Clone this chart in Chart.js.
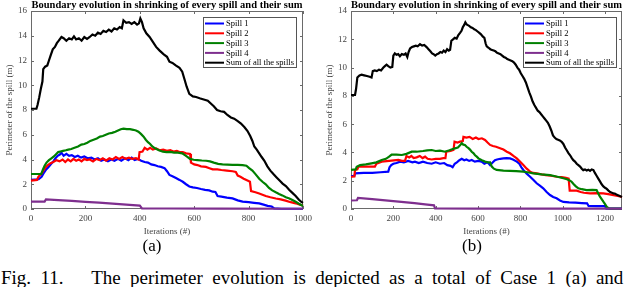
<!DOCTYPE html>
<html><head><meta charset="utf-8">
<script src="https://cdn.jsdelivr.net/npm/chart.js@4/dist/chart.umd.min.js"></script>
<style>
html,body{margin:0;padding:0;background:#fff;}
body{width:640px;height:287px;overflow:hidden;position:relative;font-family:"Liberation Serif","Times New Roman",serif;}
canvas{position:absolute;top:0;}
#ca{left:0;} #cb{left:320px;}
.sub{position:absolute;font-size:17px;line-height:17px;color:#000;transform:translateX(-50%);}
.cap{position:absolute;left:1px;top:268px;font-size:19px;line-height:19px;white-space:nowrap;word-spacing:4.6px;color:#000;}
</style></head><body>
<canvas id="ca" width="320" height="240"></canvas>
<canvas id="cb" width="320" height="240"></canvas>
<div class="sub" style="left:152px;top:237px;">(a)</div>
<div class="sub" style="left:472px;top:237px;">(b)</div>
<div class="cap">Fig. 11.&nbsp;&nbsp; The perimeter evolution is depicted as a total of Case 1 (a) and</div>
<script>
const seriesLabels = ['Spill 1','Spill 2','Spill 3','Spill 4','Sum of all the spills'];
const seriesColors = ['#0000ff','#ff0000','#008000','#7e2f8e','#000000'];
const chartTitle = 'Boundary evolution in shrinking of every spill and their sum';
const xTitle = 'Iterations (#)';
const yTitle = 'Perimeter of the spill (m)';

// ---- Case (a) ----
const spill1A = [[0,2.35],[28,2.4],[39,2.6],[48,2.95],[56,3.2],[63,3.35],[72,3.6],[82,3.85],[90,4.1],[98,4.3],[106,4.4],[112,4.55],[120,4.3],[130,4.45],[140,4.3],[150,4.35],[161,4.2],[172,4.3],[184,4.15],[196,4.25],[208,4.1],[222,4.15],[234,4.0],[246,4.1],[258,3.9],[270,4.0],[283,3.85],[295,4.0],[307,3.9],[320,4.05],[332,3.9],[345,4.1],[358,3.95],[370,4.15],[381,3.95],[393,4.05],[405,3.9],[418,3.8],[430,3.75],[442,3.6],[454,3.55],[466,3.45],[478,3.4],[491,3.3],[500,3.05],[509,2.75],[520,2.65],[533,2.5],[546,2.35],[558,2.2],[570,2.0],[582,1.82],[595,1.75],[610,1.7],[625,1.62],[640,1.55],[655,1.5],[668,1.4],[678,1.38],[686,1.05],[700,1.0],[720,0.92],[741,0.86],[760,0.7],[778,0.6],[800,0.55],[820,0.5],[839,0.45],[855,0.35],[870,0.25],[885,0.2],[894,0.05],[920,0.02],[1000,0.02]];
const spill2A = [[0,2.3],[22,2.35],[27,2.6],[40,2.9],[51,3.3],[62,3.55],[72,3.7],[82,3.8],[94,3.95],[105,3.85],[116,4.0],[126,3.8],[136,4.0],[146,3.85],[156,4.05],[166,3.9],[176,4.0],[186,3.85],[196,4.05],[206,3.95],[216,4.0],[228,3.85],[240,4.05],[252,3.95],[264,4.1],[276,3.9],[288,4.1],[300,4.0],[312,4.2],[324,4.05],[336,4.2],[348,4.05],[360,4.15],[372,4.05],[386,4.1],[396,4.0],[399,4.6],[410,4.65],[418,4.95],[428,4.8],[438,4.95],[448,4.8],[460,4.9],[473,4.75],[486,4.8],[500,4.7],[512,4.75],[524,4.65],[536,4.7],[546,4.6],[558,4.6],[570,4.5],[585,4.45],[588,3.75],[600,3.6],[612,3.55],[625,3.45],[643,3.4],[656,3.3],[668,3.2],[685,3.2],[700,3.15],[720,3.1],[741,3.05],[753,3.0],[760,2.7],[770,2.6],[782,2.45],[796,2.3],[805,2.2],[809,1.45],[825,1.35],[839,1.25],[851,1.15],[863,1.05],[880,0.95],[900,0.85],[918,0.78],[936,0.68],[955,0.55],[973,0.46],[991,0.33],[1000,0.28]];
const spill3A = [[0,2.83],[38,2.83],[44,3.2],[50,3.5],[57,3.75],[66,3.95],[75,4.1],[84,4.25],[93,4.45],[100,4.6],[108,4.65],[118,4.7],[128,4.75],[137,4.8],[148,4.85],[160,4.95],[173,5.05],[185,5.2],[196,5.25],[207,5.35],[218,5.5],[230,5.6],[242,5.7],[254,5.85],[264,5.9],[275,6.0],[286,6.1],[298,6.15],[310,6.25],[320,6.35],[330,6.45],[340,6.5],[352,6.45],[364,6.45],[376,6.4],[386,6.35],[395,6.25],[405,6.05],[414,5.85],[422,5.6],[430,5.4],[438,5.25],[446,5.05],[456,4.9],[470,4.75],[485,4.63],[498,4.6],[512,4.62],[526,4.55],[540,4.55],[556,4.5],[566,4.35],[576,4.2],[585,4.05],[598,3.98],[612,3.95],[628,3.92],[644,3.9],[658,3.85],[672,3.75],[688,3.65],[704,3.6],[722,3.58],[741,3.56],[760,3.56],[778,3.55],[792,3.5],[802,3.3],[814,3.1],[826,2.8],[839,2.45],[851,2.2],[863,2.0],[875,1.7],[887,1.5],[900,1.35],[912,1.22],[924,1.1],[937,0.95],[950,0.85],[961,0.72],[973,0.58],[985,0.42],[995,0.3],[1000,0.24]];
const spill4A = [[0,0.6],[50,0.6],[55,0.78],[100,0.72],[150,0.65],[200,0.58],[250,0.51],[300,0.44],[350,0.36],[400,0.28],[408,0.05],[500,0.04],[700,0.03],[1000,0.02]];
const sumA = [[0,8.1],[20,8.1],[24,8.4],[30,9.0],[36,9.7],[42,10.3],[45,11.3],[52,11.5],[60,11.6],[66,12.0],[72,12.4],[80,12.9],[88,13.1],[95,13.4],[102,13.6],[112,13.9],[120,13.8],[130,13.6],[140,13.8],[150,13.7],[158,13.95],[166,13.7],[176,13.8],[186,13.6],[196,13.9],[206,13.75],[216,13.9],[226,14.1],[236,14.0],[246,14.25],[256,14.15],[266,14.4],[276,14.3],[286,14.5],[296,14.35],[306,14.6],[316,14.5],[326,14.7],[334,14.6],[340,15.25],[350,15.05],[360,15.1],[370,14.95],[380,15.1],[390,14.9],[397,15.0],[402,15.4],[408,15.1],[414,14.6],[424,14.2],[436,13.9],[448,13.5],[460,13.1],[473,12.8],[488,12.5],[500,12.3],[509,11.9],[520,11.8],[532,11.6],[546,11.4],[556,11.1],[564,10.5],[572,9.9],[582,9.3],[595,9.1],[607,9.05],[620,8.95],[635,8.85],[650,8.75],[662,8.5],[672,8.3],[684,8.0],[697,7.9],[710,7.85],[722,7.6],[735,7.4],[747,7.3],[760,7.1],[772,6.9],[785,6.6],[796,6.3],[806,5.9],[814,5.5],[821,5.05],[830,4.8],[839,4.5],[848,4.2],[858,3.9],[869,3.45],[880,3.1],[892,2.8],[903,2.55],[914,2.3],[925,2.05],[937,1.85],[949,1.55],[961,1.3],[973,1.05],[985,0.75],[993,0.6],[1000,0.5]];

// ---- Case (b) ----
const spill1B = [[0,2.33],[16,2.35],[20,2.52],[60,2.55],[100,2.55],[140,2.6],[176,2.64],[182,2.95],[190,3.1],[200,3.2],[215,3.25],[232,3.35],[250,3.3],[270,3.4],[290,3.3],[302,3.35],[320,3.25],[340,3.35],[360,3.25],[381,3.2],[400,3.3],[420,3.2],[440,3.25],[455,3.1],[470,3.05],[480,2.95],[490,3.2],[500,3.3],[512,3.45],[523,3.55],[535,3.45],[545,3.5],[558,3.4],[570,3.47],[585,3.35],[600,3.4],[617,3.35],[630,3.2],[645,3.3],[657,3.1],[670,3.3],[680,3.45],[690,3.5],[705,3.55],[720,3.58],[735,3.6],[751,3.58],[765,3.5],[783,3.35],[795,3.2],[805,2.95],[814,2.76],[830,2.5],[846,2.28],[862,2.05],[877,1.82],[892,1.65],[908,1.46],[924,1.2],[940,0.99],[955,0.85],[971,0.76],[987,0.6],[1003,0.5],[1030,0.47],[1060,0.45],[1090,0.42],[1115,0.4],[1122,0.21],[1160,0.2],[1200,0.2],[1206,0.02],[1280,0.02]];
const spill2B = [[0,2.28],[16,2.3],[19,2.76],[30,2.8],[35,3.0],[70,3.0],[113,3.0],[120,3.2],[145,3.35],[180,3.4],[224,3.47],[240,3.4],[255,3.4],[262,3.75],[275,3.65],[285,3.75],[296,3.6],[310,3.65],[325,3.75],[338,3.6],[350,3.7],[362,3.55],[381,3.5],[400,3.55],[420,3.55],[436,3.6],[446,3.6],[450,4.05],[470,4.1],[484,4.17],[489,4.76],[503,4.7],[515,4.76],[528,4.8],[531,5.1],[545,5.05],[560,5.1],[575,4.95],[590,5.05],[602,4.95],[618,5.0],[633,4.88],[645,4.7],[657,4.53],[670,4.45],[685,4.4],[704,4.3],[720,4.2],[736,4.05],[751,3.94],[767,3.75],[783,3.58],[798,3.35],[814,3.11],[830,2.85],[846,2.64],[860,2.55],[877,2.52],[900,2.45],[920,2.4],[945,2.35],[971,2.28],[995,2.25],[1015,2.2],[1028,2.15],[1033,1.3],[1050,1.3],[1066,1.3],[1085,1.2],[1100,1.15],[1129,1.11],[1160,1.12],[1192,1.1],[1215,1.05],[1240,0.98],[1260,0.92],[1280,0.85]];
const spill3B = [[0,2.76],[22,2.8],[27,2.99],[43,3.1],[70,3.15],[97,3.23],[120,3.3],[145,3.47],[165,3.55],[180,3.7],[192,3.85],[215,3.85],[240,3.82],[262,3.9],[287,4.05],[310,4.05],[340,4.1],[360,4.15],[381,4.17],[400,4.1],[420,4.12],[444,4.05],[465,4.15],[491,4.29],[505,4.35],[515,4.5],[523,4.65],[530,4.55],[538,4.53],[546,4.4],[555,4.3],[562,4.2],[570,4.05],[578,3.95],[586,3.8],[594,3.7],[602,3.58],[618,3.45],[633,3.35],[645,3.3],[657,3.3],[665,3.0],[675,2.85],[688,2.76],[720,2.72],[750,2.7],[780,2.68],[814,2.64],[840,2.58],[861,2.52],[900,2.45],[940,2.4],[970,2.3],[1003,2.17],[1020,2.1],[1035,2.0],[1042,1.93],[1052,1.75],[1062,1.6],[1074,1.46],[1090,1.4],[1113,1.34],[1140,1.35],[1160,1.34],[1168,1.1],[1176,0.87],[1184,0.7],[1192,0.52],[1200,0.35],[1208,0.16],[1216,0.06],[1224,0.03],[1280,0.02]];
const spill4B = [[0,0.6],[28,0.62],[33,0.78],[100,0.7],[150,0.63],[200,0.56],[250,0.49],[300,0.41],[350,0.33],[392,0.26],[397,0.04],[600,0.03],[900,0.02],[1280,0.02]];
const sumB = [[0,8.06],[19,8.06],[24,8.5],[30,9.3],[40,9.45],[50,9.5],[62,9.45],[75,9.4],[88,9.35],[97,9.3],[103,9.75],[112,9.8],[122,9.75],[132,9.85],[142,9.8],[153,10.0],[160,10.1],[168,10.2],[176,10.1],[186,10.0],[195,10.05],[200,10.85],[207,11.0],[215,10.9],[223,10.95],[231,10.8],[240,10.95],[250,10.9],[258,11.0],[266,10.75],[272,11.1],[279,11.35],[288,11.45],[297,11.5],[306,11.55],[315,11.5],[326,11.65],[336,11.55],[346,11.6],[357,11.45],[366,11.3],[375,11.15],[383,11.0],[390,10.95],[398,10.85],[406,10.95],[414,11.0],[422,11.1],[430,11.05],[438,11.2],[446,11.1],[454,11.3],[462,11.2],[468,11.25],[474,11.9],[482,12.0],[490,12.1],[499,12.05],[507,12.3],[515,12.45],[522,12.6],[528,12.85],[534,13.0],[540,13.2],[546,13.05],[552,13.0],[558,12.95],[566,12.85],[574,12.8],[582,12.7],[590,12.65],[598,12.55],[606,12.45],[614,12.35],[622,12.2],[630,12.1],[636,11.7],[641,11.5],[650,11.4],[658,11.3],[666,11.25],[674,11.2],[682,11.15],[690,11.05],[698,11.0],[706,10.95],[714,10.85],[722,10.75],[730,10.7],[738,10.6],[746,10.55],[754,10.5],[762,10.45],[770,10.35],[778,10.2],[786,10.0],[794,9.85],[802,9.6],[810,9.4],[818,9.2],[826,8.95],[834,8.6],[842,8.25],[850,7.95],[858,7.6],[866,7.35],[874,7.15],[882,6.95],[890,6.85],[898,6.7],[906,6.55],[914,6.4],[922,6.25],[930,6.1],[938,5.85],[946,5.55],[954,5.2],[962,5.05],[970,4.95],[978,4.9],[986,4.85],[995,4.75],[1003,4.6],[1011,4.35],[1019,4.15],[1027,3.95],[1035,3.8],[1043,3.6],[1050,3.45],[1058,3.35],[1066,3.2],[1074,3.1],[1082,3.0],[1090,2.85],[1097,2.75],[1105,2.8],[1113,2.72],[1121,2.78],[1129,2.7],[1137,2.8],[1145,2.75],[1152,2.55],[1160,2.35],[1168,2.15],[1176,1.95],[1184,1.75],[1192,1.6],[1200,1.5],[1208,1.42],[1216,1.3],[1224,1.2],[1232,1.15],[1240,1.1],[1248,1.08],[1256,1.0],[1264,0.95],[1272,0.9],[1280,0.85]];

const FONT = '"Liberation Serif", "Times New Roman", serif';

const boxPlugin = {
  id: 'matBox',
  beforeDatasetsDraw(chart) {
    const {ctx, chartArea: a, scales: {x, y}} = chart;
    ctx.save();
    ctx.strokeStyle = '#6a6a6a';
    ctx.lineWidth = 1;
    ctx.strokeRect(Math.round(a.left) + 0.5, Math.round(a.top) + 0.5, Math.round(a.right - a.left) - 1, Math.round(a.bottom - a.top) - 1);
    const L = 3;
    ctx.beginPath();
    x.ticks.forEach(t => {
      const p = Math.round(x.getPixelForValue(t.value)) + 0.5;
      ctx.moveTo(p, a.bottom); ctx.lineTo(p, a.bottom - L);
      ctx.moveTo(p, a.top); ctx.lineTo(p, a.top + L);
    });
    y.ticks.forEach(t => {
      const p = Math.round(y.getPixelForValue(t.value)) + 0.5;
      ctx.moveTo(a.left, p); ctx.lineTo(a.left + L, p);
      ctx.moveTo(a.right, p); ctx.lineTo(a.right - L, p);
    });
    ctx.stroke();
    ctx.restore();
  }
};

const legendPlugin = {
  id: 'boxLegend',
  afterDraw(chart, args, opts) {
    const {ctx, chartArea: a} = chart;
    const w = 94, h = 51;
    const x0 = Math.round(a.right - opts.gapRight - w), y0 = Math.round(a.top + opts.gapTop);
    ctx.save();
    ctx.fillStyle = '#fff';
    ctx.fillRect(x0, y0, w, h);
    ctx.strokeStyle = '#555';
    ctx.lineWidth = 1;
    ctx.strokeRect(x0 + 0.5, y0 + 0.5, w - 1, h - 1);
    ctx.font = '8.5px ' + FONT;
    ctx.textBaseline = 'middle';
    chart.data.datasets.forEach((ds, i) => {
      const cy = y0 + 6.5 + i * 9.8;
      ctx.strokeStyle = ds.borderColor;
      ctx.lineWidth = 2;
      ctx.beginPath();
      ctx.moveTo(x0 + 2, cy); ctx.lineTo(x0 + 21, cy);
      ctx.stroke();
      ctx.fillStyle = '#000';
      ctx.fillText(ds.label, x0 + 23, cy + 0.5);
    });
    ctx.restore();
  }
};

function pts(arr) { return arr.map(p => ({x: p[0], y: p[1]})); }

function makeChart(id, series, xMax, yMax, padRight, gapRight) {
  const datasets = series.map((s, i) => ({
    label: seriesLabels[i],
    data: pts(s),
    borderColor: seriesColors[i],
    backgroundColor: seriesColors[i],
    borderWidth: 2.2,
    pointRadius: 0,
    tension: 0,
    fill: false,
    clip: false,
    order: 10 - i
  }));
  return new Chart(document.getElementById(id), {
    type: 'line',
    data: {datasets},
    options: {
      responsive: false,
      animation: false,
      events: [],
      layout: {padding: {left: 0, right: padRight, top: 0, bottom: 0}},
      plugins: {
        legend: {display: false},
        tooltip: {enabled: false},
        title: {
          display: true, text: chartTitle, fullSize: false,
          color: '#000', font: {family: FONT, size: 10.5, weight: 'bold', lineHeight: 1},
          padding: {top: 0, bottom: 0.5}
        },
        boxLegend: {gapRight: gapRight, gapTop: 6}
      },
      scales: {
        x: {
          type: 'linear', min: 0, max: xMax,
          grid: {display: false, drawTicks: false}, border: {display: false},
          ticks: {stepSize: 200, includeBounds: false, padding: 4, color: '#444', font: {family: FONT, size: 9}, maxRotation: 0, autoSkip: false, callback: v => String(v)},
          title: {display: true, text: xTitle, color: '#444', font: {family: FONT, size: 9}, padding: {top: 0, bottom: 3}},
          afterFit(s) { s.height = 31; }
        },
        y: {
          type: 'linear', min: 0, max: yMax,
          grid: {display: false, drawTicks: false}, border: {display: false},
          ticks: {stepSize: 2, padding: 4, color: '#444', font: {family: FONT, size: 9}, callback: v => String(v)},
          title: {display: true, text: yTitle, color: '#444', font: {family: FONT, size: 9}, padding: {top: 4, bottom: 0}},
          afterFit(s) { s.width = 31; }
        }
      }
    },
    plugins: [boxPlugin, legendPlugin]
  });
}

makeChart('ca', [spill1A, spill2A, spill3A, spill4A, sumA], 1000, 16, 17, 6);
makeChart('cb', [spill1B, spill2B, spill3B, spill4B, sumB], 1280, 14, 18, 5);
</script>
</body></html>
